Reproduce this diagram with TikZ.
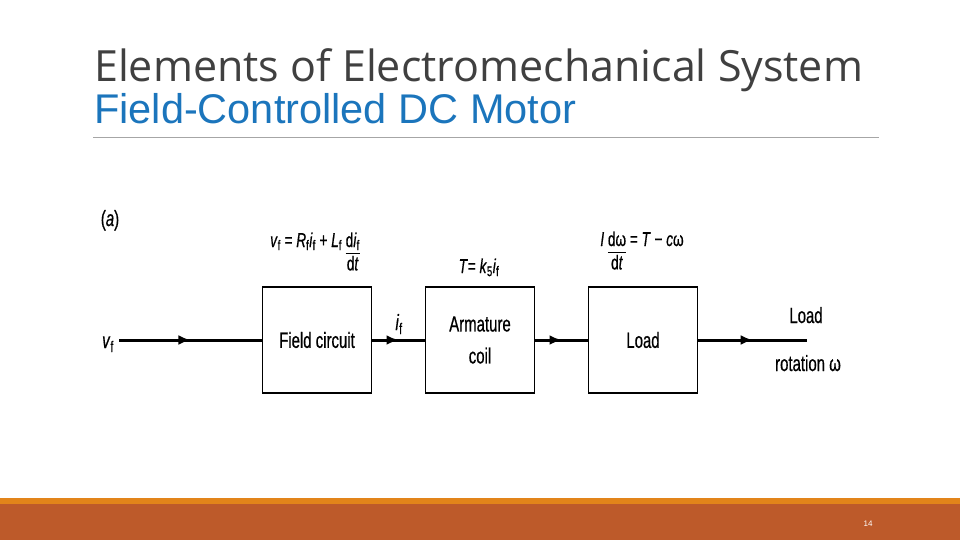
\documentclass[tikz,border=0pt]{standalone}
\usepackage{fontspec}
\setmainfont{Liberation Sans}
\newfontfamily\titlefont{Open Sans}
\newfontfamily\diagfont[FakeStretch=0.68,FakeBold=0.6]{Liberation Sans}
\usepackage{tikz}
\usetikzlibrary{arrows.meta,decorations.markings}
\definecolor{titlegray}{HTML}{404040}
\definecolor{subblue}{HTML}{1B75BC}
\definecolor{barorange}{HTML}{E2841A}
\definecolor{bardark}{HTML}{BD5A2A}
\newcommand{\vr}[1]{\textit{#1}}
\newcommand{\sbs}[1]{\textsubscript{#1}}
\newcommand{\dfr}[2]{\begin{tabular}[t]{@{}c@{}}#1\\[-2pt]\hline #2\end{tabular}}

\begin{document}
\begin{tikzpicture}[x=1pt,y=-1pt,
    block/.style={draw,line width=1.7pt,inner sep=0pt,minimum width=109pt,
      minimum height=106pt,align=center,font=\diagfont\fontsize{22}{32}\selectfont},
    eqn/.style={inner sep=0pt,anchor=base,font=\diagfont\fontsize{20}{25}\selectfont},
    lbl/.style={inner sep=0pt,anchor=base,font=\diagfont\fontsize{22}{24}\selectfont},
    flow/.style={line width=3pt,postaction={decorate},decoration={markings,
      mark=at position 0.5 with {\arrow{Latex[length=12pt,width=10pt]}}}}]
  \useasboundingbox (0,0) rectangle (960,540);

  % slide title
  \node[anchor=base west,inner sep=0pt,text=titlegray,
    font=\titlefont\fontsize{43}{48}\selectfont] (title) at (94,82)
    {Elements of Electromechanical System};
  \node[anchor=base west,inner sep=0pt,text=subblue,
    font=\fontsize{41.5}{48}\selectfont] (subtitle) at (94,124)
    {Field-Controlled DC Motor};
  \draw[gray!70,line width=0.8pt] (93,137) -- (879,137);

  % block diagram
  \node[lbl] (tag) at (110,226) {(\vr{a})};
  \node[block] (field) at (317,340) {Field circuit};
  \node[block] (armature) at (480,340) {Armature\\coil};
  \node[block] (load) at (643,340) {Load};
  \coordinate (vin) at (119,340);
  \coordinate (wout) at (807,340);

  \draw[flow] (vin) -- (field);
  \draw[flow] (field) -- (armature);
  \draw[flow] (armature) -- (load);
  \draw[flow] (load) -- (wout);

  \node[lbl,anchor=base east] (vf) at (114,348) {\vr{v}\sbs{f}};
  \node[lbl] (if) at (399,330) {\vr{i}\sbs{f}};
  \node[lbl] (out1) at (806,323) {Load};
  \node[lbl] (out2) at (808,371) {rotation ω};

  \node[eqn] (eqfield) at (315,247)
    {\vr{v}\sbs{f} = \vr{R}\sbs{f}\vr{i}\sbs{f} + \vr{L}\sbs{f} \dfr{d\vr{i}\sbs{f}}{d\vr{t}}};
  \node[eqn] (eqarm) at (479,273) {\vr{T}= \vr{k}\sbs{5}\vr{i}\sbs{f}};
  \node[eqn] (eqload) at (642,246) {\vr{I} \dfr{dω}{d\vr{t}} = \vr{T} − \vr{c}ω};

  % footer
  \fill[barorange] (0,497.5) rectangle (960,504);
  \fill[bardark] (0,504) rectangle (960,540);
  \node[text=white,inner sep=0pt,font=\fontsize{8}{8}\selectfont] (pagenum) at (868,524) {14};
\end{tikzpicture}
\end{document}
